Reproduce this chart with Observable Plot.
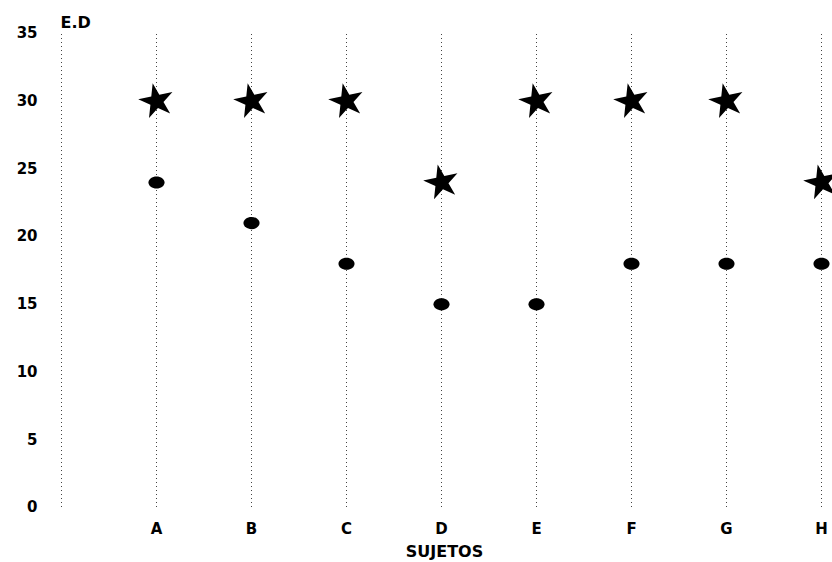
<!DOCTYPE html>
<html>
<head>
<meta charset="utf-8">
<script src="https://cdn.jsdelivr.net/npm/d3@7"></script>
<script src="https://cdn.jsdelivr.net/npm/@observablehq/plot@0.6"></script>
<style>
  html, body { margin: 0; padding: 0; background: #fff; overflow: hidden; }
  #chart { width: 832px; height: 562px; overflow: hidden; }
</style>
</head>
<body>
<div id="chart"></div>
<script>
// Data
const subjects = ["A", "B", "C", "D", "E", "F", "G", "H"];
const starValues = [30, 30, 30, 24, 30, 30, 30, 24];
const circleValues = [24, 21, 18, 15, 15, 18, 18, 18];
const yTicks = [0, 5, 10, 15, 20, 25, 30, 35];
const yTitle = "E.D";
const xTitle = "SUJETOS";

const stars = subjects.map((s, i) => ({subject: s, value: starValues[i]}));
const circles = subjects.map((s, i) => ({subject: s, value: circleValues[i]}));
const gridPositions = [" ", ...subjects];

// custom ellipse symbol
const ellipse = {
  draw(context, size) {
    const r = Math.sqrt(size / Math.PI);
    const rx = r * 1.15, ry = r * 0.87, k = 0.5523;
    context.moveTo(rx, 0);
    context.bezierCurveTo(rx, ry * k, rx * k, ry, 0, ry);
    context.bezierCurveTo(-rx * k, ry, -rx, ry * k, -rx, 0);
    context.bezierCurveTo(-rx, -ry * k, -rx * k, -ry, 0, -ry);
    context.bezierCurveTo(rx * k, -ry, rx, -ry * k, rx, 0);
    context.closePath();
  }
};

const chart = Plot.plot({
  width: 832,
  height: 562,
  marginLeft: 60,
  marginRight: 10,
  marginTop: 33,
  marginBottom: 55,
  style: {fontFamily: "'DejaVu Sans', sans-serif", fontSize: "15px", fontWeight: "bold", color: "#000", background: "#fff"},
  x: {type: "point", domain: gridPositions, padding: 0},
  y: {domain: [0, 35]},
  marks: [
    Plot.ruleX(gridPositions, {x: d => d, y1: 0, y2: 35, stroke: "#444", strokeWidth: 1, strokeDasharray: "1,3"}),
    Plot.axisY({ticks: yTicks, tickSize: 0, tickPadding: 23, label: null, fontSize: 15, letterSpacing: 1}),
    Plot.axisX({ticks: subjects, tickSize: 0, tickPadding: 16, label: null, fontSize: 15}),
    Plot.text([yTitle], {frameAnchor: "top-left", text: d => d, textAnchor: "start", dy: -17, dx: 0, fontSize: 16, letterSpacing: 2}),
    Plot.text([xTitle], {frameAnchor: "bottom", text: d => d, dy: 49, dx: 3, fontSize: 16, letterSpacing: 3}),
    Plot.dot(circles, {x: "subject", y: "value", symbol: ellipse, r: 7, fill: "#000", stroke: "none"}),
    Plot.dot(stars, {x: "subject", y: "value", symbol: "star", r: 11, fill: "#000", stroke: "none", rotate: -12})
  ]
});
document.getElementById("chart").appendChild(chart);
</script>
</body>
</html>
